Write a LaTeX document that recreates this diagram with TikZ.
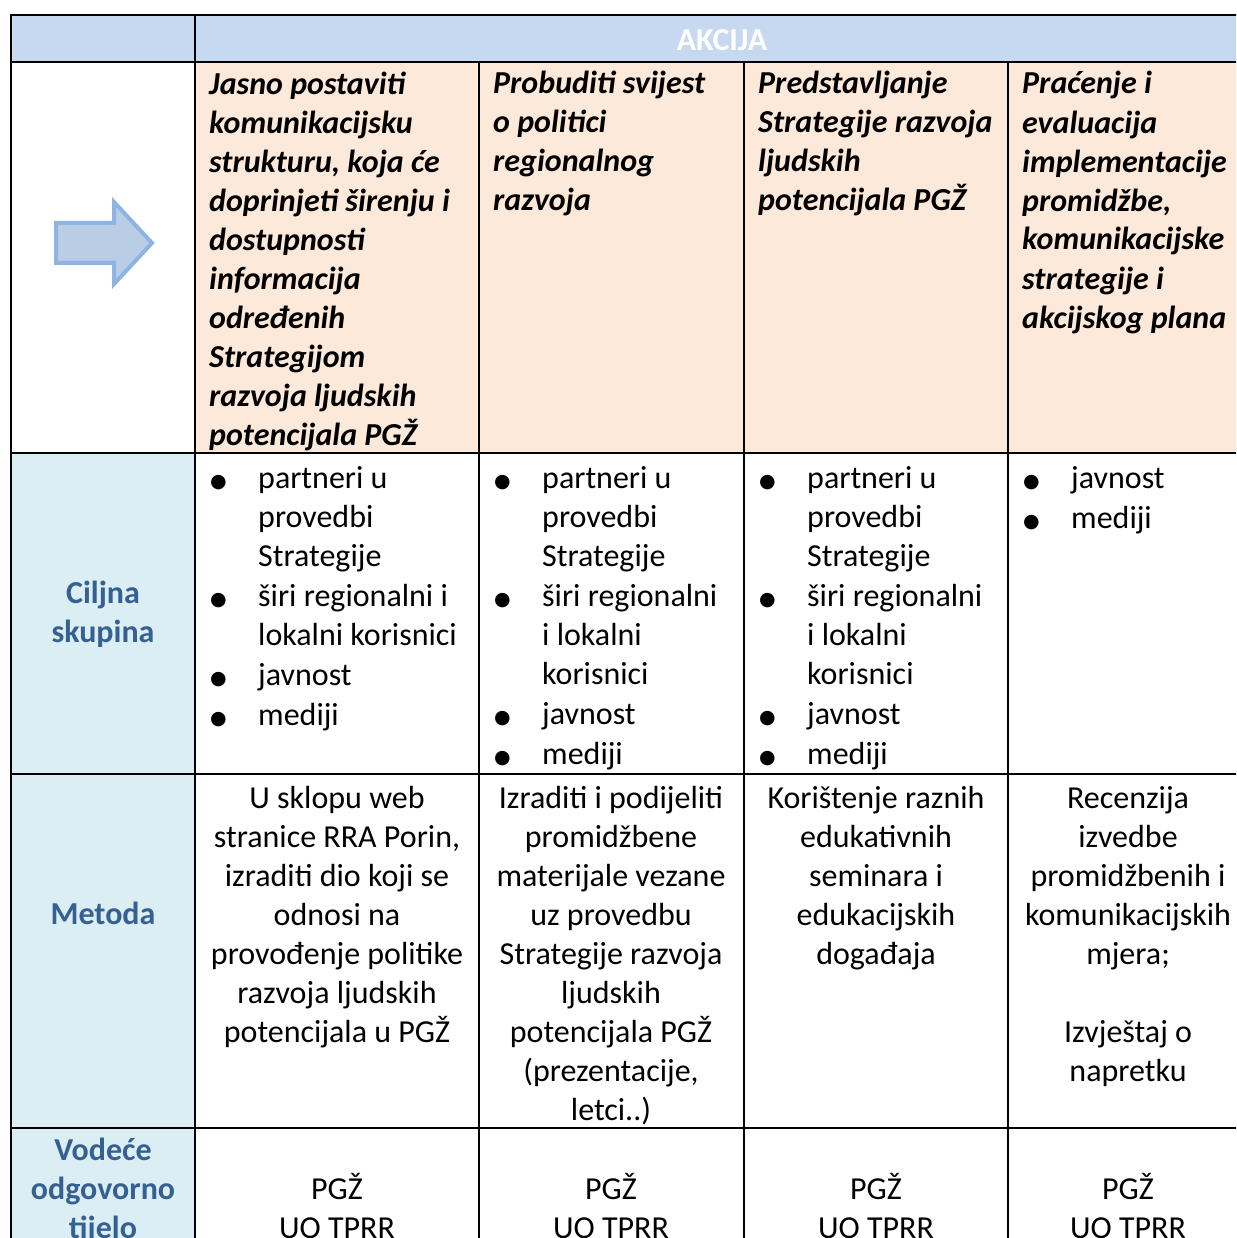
\documentclass[tikz,border=0pt]{standalone}
\usepackage{fontspec}
\setmainfont{Carlito}
\newfontfamily\symfont{DejaVu Sans}
\definecolor{hdrblue}{HTML}{C6D9F1}
\definecolor{sideblue}{HTML}{DAEEF3}
\definecolor{peach}{HTML}{FDE9D9}
\definecolor{lblblue}{HTML}{376092}
\definecolor{arrfill}{HTML}{B9CDE5}
\definecolor{arrline}{HTML}{8EB4E3}
\newcommand{\bul}{\makebox[47pt][l]{\hspace{-1pt}{\symfont\fontsize{19}{19}\selectfont\raisebox{1pt}{●}}}}
\newcommand{\ind}{\hspace*{47pt}}

\begin{document}
\begin{tikzpicture}[x=1pt,y=-1pt,
  grid/.style={line width=2.6pt, line cap=rect},
  txt/.style={inner sep=0pt, font=\fontsize{32}{39}\selectfont},
  act/.style={txt, anchor=base west, align=left, font=\fontsize{32}{39}\selectfont\bfseries\itshape},
  lst/.style={txt, anchor=base west, align=left},
  mid/.style={txt, anchor=base, align=center},
  lbl/.style={txt, anchor=base, align=center, text=lblblue, font=\fontsize{32}{39}\selectfont\bfseries}]
  \useasboundingbox (0,0) rectangle (1236,1238);
  \clip (0,0) rectangle (1236,1238);

  % cell fills
  \fill[hdrblue] (11,15) rectangle (1260,62);
  \fill[peach] (195,62) rectangle (1260,453);
  \fill[sideblue] (11,453) rectangle (195,1260);

  % arrow
  \draw[arrline, fill=arrfill, line width=4pt, line join=miter]
    (56,223) -- (114,223) -- (114,202) -- (152,243) -- (114,284)
    -- (114,263) -- (56,263) -- cycle;

  % grid
  \foreach \y in {15,62,453,774,1128}
    \draw[grid] (11,\y) -- (1260,\y);
  \draw[grid] (11,15) -- (11,1260);
  \draw[grid] (195,15) -- (195,1260);
  \foreach \x in {479,744,1008}
    \draw[grid] (\x,62) -- (\x,1260);

  % header
  \node[txt, anchor=base, text=white, font=\fontsize{32}{39}\selectfont\bfseries] (akcija) at (722,51) {AKCIJA};

  % actions (placed at the baseline of the last line)
  \node[act] (act1) at (209,445) {Jasno postaviti\\komunikacijsku\\strukturu, koja će\\doprinjeti širenju i\\dostupnosti\\informacija\\određenih\\Strategijom\\razvoja ljudskih\\potencijala PGŽ};
  \node[act] (act2) at (493,211) {Probuditi svijest\\o politici\\regionalnog\\razvoja};
  \node[act] (act3) at (758,211) {Predstavljanje\\Strategije razvoja\\ljudskih\\potencijala PGŽ};
  \node[act] (act4) at (1022,328) {Praćenje i\\evaluacija\\implementacije\\promidžbe,\\komunikacijske\\strategije i\\akcijskog plana};

  % row labels
  \node[lbl] (ciljna) at (103,642) {Ciljna\\skupina};
  \node[lbl] (metoda) at (103,924) {Metoda};
  \node[lbl] (vodece) at (103,1238) {Vodeće\\odgovorno\\tijelo};

  % target groups
  \node[lst] (cilj1) at (211,725) {\bul partneri u\\\ind provedbi\\\ind Strategije\\[0.7pt]\bul širi regionalni i\\\ind lokalni korisnici\\[0.7pt]\bul javnost\\[0.7pt]\bul mediji};
  \node[lst] (cilj2) at (495,764) {\bul partneri u\\\ind provedbi\\\ind Strategije\\[0.7pt]\bul širi regionalni\\\ind i lokalni\\\ind korisnici\\[0.7pt]\bul javnost\\[0.7pt]\bul mediji};
  \node[lst] (cilj3) at (760,764) {\bul partneri u\\\ind provedbi\\\ind Strategije\\[0.7pt]\bul širi regionalni\\\ind i lokalni\\\ind korisnici\\[0.7pt]\bul javnost\\[0.7pt]\bul mediji};
  \node[lst] (cilj4) at (1024,528) {\bul javnost\\[0.7pt]\bul mediji};

  % methods
  \node[mid] (met1) at (337,1042) {U sklopu web\\stranice RRA Porin,\\izraditi dio koji se\\odnosi na\\provođenje politike\\razvoja ljudskih\\potencijala u PGŽ};
  \node[mid] (met2) at (611,1120) {Izraditi i podijeliti\\promidžbene\\materijale vezane\\uz provedbu\\Strategije razvoja\\ljudskih\\potencijala PGŽ\\(prezentacije,\\letci..)};
  \node[mid] (met3) at (876,964) {Korištenje raznih\\edukativnih\\seminara i\\edukacijskih\\događaja};
  \node[mid] (met4) at (1128,1081) {Recenzija\\izvedbe\\promidžbenih i\\komunikacijskih\\mjera;\\[39pt]Izvještaj o\\napretku};

  % responsible bodies
  \node[mid] (vod1) at (337,1238) {PGŽ\\UO TPRR};
  \node[mid] (vod2) at (611,1238) {PGŽ\\UO TPRR};
  \node[mid] (vod3) at (876,1238) {PGŽ\\UO TPRR};
  \node[mid] (vod4) at (1128,1238) {PGŽ\\UO TPRR};
\end{tikzpicture}
\end{document}
